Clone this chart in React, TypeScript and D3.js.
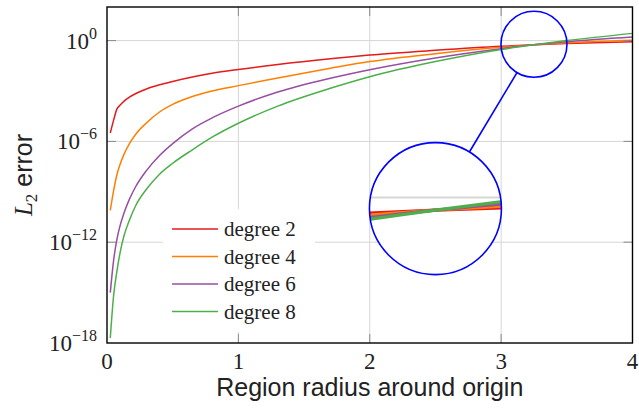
import React from 'react';
import * as d3 from 'd3';

// region radius samples shared by all series
const radius = [0.025, 0.05, 0.075, 0.1, 0.13, 0.17, 0.22, 0.3, 0.4, 0.5, 0.65, 0.8, 1.0, 1.3, 1.7, 2.0, 2.5, 3.0, 3.25, 3.5, 4.0];

// log10 of the L2 error
const deg2Log = [-5.5, -4.75, -4.08, -3.84, -3.6, -3.37, -3.15, -2.88, -2.63, -2.43, -2.17, -1.95, -1.72, -1.42, -1.08, -0.86, -0.58, -0.34, -0.25, -0.18, -0.07];
const deg4Log = [-10.1, -8.94, -8.0, -7.36, -6.76, -6.15, -5.56, -4.9, -4.25, -3.8, -3.33, -3.0, -2.68, -2.22, -1.65, -1.25, -0.78, -0.4, -0.25, -0.13, 0.02];
const deg6Log = [-15.0, -13.1, -11.85, -11.0, -10.25, -9.45, -8.67, -7.74, -6.84, -6.13, -5.25, -4.6, -3.9, -3.06, -2.24, -1.73, -1.03, -0.48, -0.25, -0.07, 0.21];
const deg8Log = [-17.7, -15.2, -13.75, -12.6, -11.6, -10.7, -9.8, -8.85, -7.95, -7.3, -6.5, -5.75, -4.92, -3.9, -2.84, -2.15, -1.25, -0.53, -0.25, 0.0, 0.43];

const seriesNames = ['degree 2', 'degree 4', 'degree 6', 'degree 8'];
const seriesLogs = [deg2Log, deg4Log, deg6Log, deg8Log];
const colors = ['#e41a1c', '#ff7f00', '#984ea3', '#4daf4a'];

const xTicks = [0, 1, 2, 3, 4];
const yTickExps = [0, -6, -12, -18];

// spy: focus point and where the magnified view is placed (data coords)
const spyFocus = { r: 3.25, err: Math.pow(10, -0.22) };
const spyTarget = { r: 2.5, err: 1e-10 };
const spyMag = 3;

const W = 639;
const H = 412;
const margin = { top: 7, right: 6.5, bottom: 69, left: 107 };

const App = () => {
  const iw = W - margin.left - margin.right;
  const ih = H - margin.top - margin.bottom;
  const x0 = margin.left;
  const y0 = margin.top;

  const x = d3.scaleLinear().domain([0, 4]).range([x0, x0 + iw]);
  const y = d3.scaleLog().domain([1e-18, 1e2]).range([y0 + ih, y0]);

  const line = d3
    .line<number>()
    .x((d, i) => x(radius[i]))
    .y(d => y(Math.pow(10, d)))
    .curve(d3.curveMonotoneX);

  const serif = 'Liberation Serif, DejaVu Serif, serif';
  const sans = 'Liberation Sans, Arial, sans-serif';
  const gridColor = '#d6d6d6';
  const tickColor = '#8a8a8a';
  const tickLen = 9;

  const sx = x(spyFocus.r);
  const sy = y(spyFocus.err);
  const bx = x(spyTarget.r);
  const by = y(spyTarget.err);
  const rSmall = 33;
  const rBig = 66;
  const ang = Math.atan2(by - sy, bx - sx);

  const legendX = 163;
  const legendY = 209;
  const rowH = 27.5;

  const grid = (sw: number) => (
    <g>
      {xTicks.slice(1, -1).map(t => (
        <line key={'gx' + t} x1={x(t)} x2={x(t)} y1={y0} y2={y0 + ih} stroke={gridColor} strokeWidth={sw} />
      ))}
      {yTickExps.slice(0, -1).map(e => (
        <line key={'gy' + e} x1={x0} x2={x0 + iw} y1={y(Math.pow(10, e))} y2={y(Math.pow(10, e))} stroke={gridColor} strokeWidth={sw} />
      ))}
    </g>
  );

  const curves = (sw: number) =>
    seriesLogs.map((s, i) => (
      <path key={seriesNames[i]} d={line(s) || ''} fill="none" stroke={colors[i]} strokeWidth={sw} strokeLinejoin="round" />
    ));

  return (
    <svg width={W} height={H} style={{ position: 'absolute', left: 0, top: 0, background: '#fff' }}>
      <defs>
        <clipPath id="plotClip">
          <rect x={x0} y={y0} width={iw} height={ih} />
        </clipPath>
        <clipPath id="spyClip">
          <circle cx={bx} cy={by} r={rBig} />
        </clipPath>
      </defs>

      {grid(1)}

      {/* legend box hides the grid */}
      <rect x={legendX} y={legendY} width={152} height={123} fill="#fff" />

      <g clipPath="url(#plotClip)">{curves(1.5)}</g>

      {/* legend */}
      {seriesNames.map((n, i) => {
        const ly = legendY + 20 + i * rowH;
        return (
          <g key={n}>
            <line x1={legendX + 9} x2={legendX + 55} y1={ly} y2={ly} stroke={colors[i]} strokeWidth={1.6} />
            <text x={legendX + 61} y={ly + 7} fontFamily={serif} fontSize={21} fill="#222">
              {n}
            </text>
          </g>
        );
      })}

      {/* ticks on all four sides */}
      {xTicks.slice(1, -1).map(t => (
        <g key={'tx' + t}>
          <line x1={x(t)} x2={x(t)} y1={y0 + ih} y2={y0 + ih - tickLen} stroke={tickColor} strokeWidth={1} />
          <line x1={x(t)} x2={x(t)} y1={y0} y2={y0 + tickLen} stroke={tickColor} strokeWidth={1} />
        </g>
      ))}
      {yTickExps.slice(0, -1).map(e => (
        <g key={'ty' + e}>
          <line x1={x0} x2={x0 + tickLen} y1={y(Math.pow(10, e))} y2={y(Math.pow(10, e))} stroke={tickColor} strokeWidth={1} />
          <line x1={x0 + iw} x2={x0 + iw - tickLen} y1={y(Math.pow(10, e))} y2={y(Math.pow(10, e))} stroke={tickColor} strokeWidth={1} />
        </g>
      ))}

      {/* frame */}
      <rect x={x0} y={y0} width={iw} height={ih} fill="none" stroke="#000" strokeWidth={1.4} />

      {/* tick labels */}
      {xTicks.map(t => (
        <text key={'lx' + t} x={x(t)} y={369} textAnchor="middle" fontFamily={serif} fontSize={23} fill="#222">
          {t}
        </text>
      ))}
      {yTickExps.map(e => (
        <text key={'ly' + e} x={97} y={y(Math.pow(10, e)) + 8} textAnchor="end" fontFamily={serif} fontSize={23} fill="#222">
          10
          <tspan fontSize={16} dy={-10}>
            {e === 0 ? '0' : '\u2212' + Math.abs(e)}
          </tspan>
        </text>
      ))}

      {/* axis titles */}
      <text x={x(2)} y={396} textAnchor="middle" fontFamily={sans} fontSize={25} fill="#222">
        Region radius around origin
      </text>
      <text transform={`translate(32,${y0 + ih / 2}) rotate(-90)`} textAnchor="middle" fill="#222">
        <tspan fontFamily={serif} fontStyle="italic" fontSize={25}>L</tspan>
        <tspan fontFamily={serif} fontSize={17} dy={5}>2</tspan>
        <tspan fontFamily={sans} fontSize={25} dy={-5}> error</tspan>
      </text>

      {/* spy */}
      <circle cx={sx} cy={sy} r={rSmall} fill="none" stroke="#0000ff" strokeWidth={1.6} />
      <line
        x1={sx + rSmall * Math.cos(ang)}
        y1={sy + rSmall * Math.sin(ang)}
        x2={bx - rBig * Math.cos(ang)}
        y2={by - rBig * Math.sin(ang)}
        stroke="#0000ff"
        strokeWidth={1.6}
      />
      <circle cx={bx} cy={by} r={rBig} fill="#fff" />
      <g clipPath="url(#spyClip)">
        <g transform={`translate(${bx},${by}) scale(${spyMag}) translate(${-sx},${-sy})`}>
          {grid(0.6)}
          <g clipPath="url(#plotClip)">{curves(1.1)}</g>
        </g>
      </g>
      <circle cx={bx} cy={by} r={rBig} fill="none" stroke="#0000ff" strokeWidth={1.6} />
    </svg>
  );
};

export default App;
